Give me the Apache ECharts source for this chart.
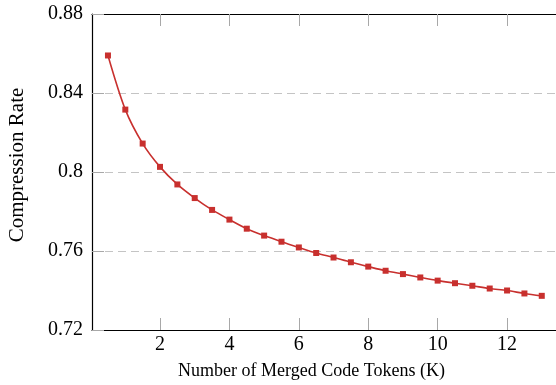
<!DOCTYPE html>
<html><head><meta charset="utf-8">
<script src="https://cdn.jsdelivr.net/npm/echarts@6/dist/echarts.min.js"></script>
<style>html,body{margin:0;padding:0;background:#fff}#c{width:556px;height:385px}</style>
</head><body><div id="c"></div>
<script>
const xValues = [0.5,1,1.5,2,2.5,3,3.5,4,4.5,5,5.5,6,6.5,7,7.5,8,8.5,9,9.5,10,10.5,11,11.5,12,12.5,13];
const rateValues = [0.859,0.8316,0.8144,0.8026,0.7937,0.7868,0.7808,0.7759,0.7713,0.7678,0.7647,0.7618,0.759,0.7567,0.7543,0.7521,0.750,0.7483,0.7466,0.745,0.7437,0.7424,0.741,0.740,0.7385,0.7373];
const xTicks = [2,4,6,8,10,12];
const yTicks = [0.72,0.76,0.8,0.84,0.88];

const serif = 'Liberation Serif';
const tickStyle = {color:'#a8a8a8',width:1};
const chart = echarts.init(document.getElementById('c'));
const data = xValues.map((x,i)=>[x,rateValues[i]]);
chart.setOption({
  animation:false,
  grid:{left:92,right:0,top:14,bottom:55,outerBoundsMode:'none',containLabel:false},
  xAxis:[{
    type:'value',min:0.04,max:13.41,
    name:'Number of Merged Code Tokens (K)',nameLocation:'middle',nameGap:32,
    nameTextStyle:{fontFamily:serif,fontSize:18,color:'#000',padding:[0,25,0,0]},
    axisLine:{lineStyle:{color:'#000',width:1.2}},
    axisTick:{inside:true,length:12,lineStyle:tickStyle,customValues:xTicks},
    axisLabel:{fontFamily:serif,fontSize:20,color:'#000',margin:5,customValues:xTicks,formatter:v=>String(v)},
    splitLine:{show:false}
  },{
    type:'value',position:'top',min:0.04,max:13.41,
    axisLine:{show:true,lineStyle:{color:'#000',width:1.2}},
    axisTick:{inside:true,length:12,lineStyle:tickStyle,customValues:xTicks},
    axisLabel:{show:false},splitLine:{show:false}
  }],
  yAxis:[{
    type:'value',min:0.72,max:0.88,interval:0.04,
    name:'Compression Rate',nameLocation:'middle',nameGap:64,
    nameTextStyle:{fontFamily:serif,fontSize:21,color:'#000',padding:[0,0,0,14]},
    axisLine:{show:true,lineStyle:{color:'#000',width:1.2}},
    axisTick:{show:true,inside:true,length:12,lineStyle:tickStyle,customValues:yTicks},
    axisLabel:{fontFamily:serif,fontSize:20,color:'#000',margin:9,customValues:yTicks,formatter:v=>String(+(+v).toFixed(2))},
    splitLine:{show:true,lineStyle:{color:'#c4c4c4',type:[8,5],width:1}}
  }],
  series:[{
    type:'line',data:data,smooth:0.3,
    symbol:'rect',symbolSize:6,
    lineStyle:{color:'#c8302e',width:1.6},
    itemStyle:{color:'#c8302e'}
  }]
});
</script></body></html>
